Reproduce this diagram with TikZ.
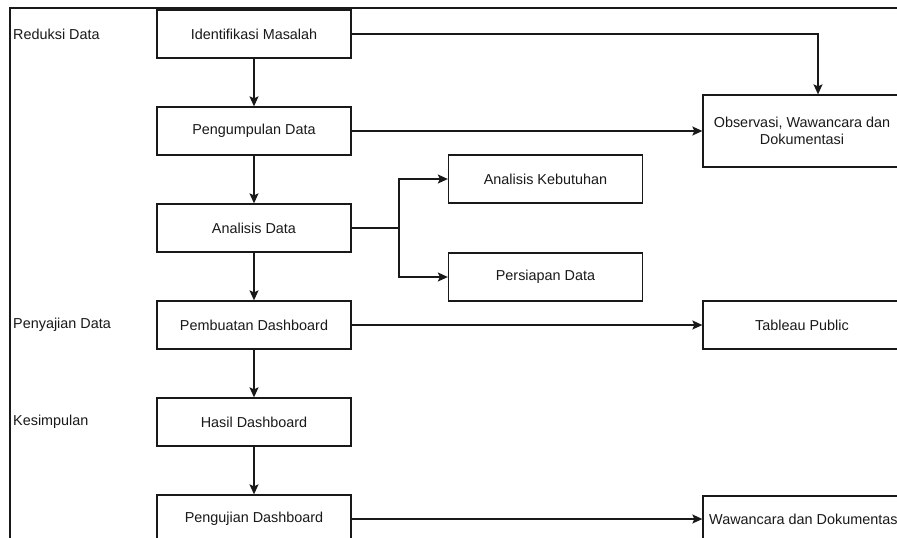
\documentclass[tikz,border=0pt]{standalone}
\usepackage{fontspec}
\setmainfont{Liberation Sans}
\usetikzlibrary{arrows.meta}
\begin{document}
\begin{tikzpicture}[x=1pt,y=-1pt,
  box/.style={draw=black!90,line width=1.3pt,minimum width=194pt,minimum height=48pt,inner sep=0pt,align=center,text=black!90,font=\fontsize{14.4}{17}\selectfont},
  wbox/.style={box,minimum width=198pt},
  lab/.style={anchor=west,inner sep=0pt,text=black!90,font=\fontsize{14.4}{17}\selectfont},
  conn/.style={draw=black!90,line width=1.3pt},
  arr/.style={conn,-{Stealth[length=10pt,width=9pt,inset=2pt]}}]
\useasboundingbox (0,0) rectangle (897,538);
\clip (0,0) rectangle (897,538);
\fill[white] (0,0) rectangle (897,538);
% frame
\coordinate (fa) at (10,538);
\coordinate (fb) at (10,8);
\coordinate (fc) at (897,8);
\draw[conn,line width=1.6pt] (fa) -- (fb) -- (fc);
% left labels
\node[lab] (l1) at (13,34) {Reduksi Data};
\node[lab] (l2) at (13,325) {Penyajian Data};
\node[lab] (l3) at (13,422) {Kesimpulan};
% main column
\node[box] (im) at (254,34) {Identifikasi Masalah};
\node[box] (pd) at (254,131) {Pengumpulan Data};
\node[box] (ad) at (254,228) {Analisis Data};
\node[box] (pb) at (254,325) {Pembuatan Dashboard};
\node[box] (hd) at (254,422) {Hasil Dashboard};
\node[box] (pj) at (254,519) {Pengujian Dashboard};
% middle
\node[box] (ak) at (545.5,179) {Analisis Kebutuhan};
\node[box] (ps) at (545.5,277) {Persiapan Data};
% right
\node[wbox,minimum height=72pt] (ob) at (802,131) {Observasi, Wawancara dan\\Dokumentasi};
\node[wbox] (tp) at (802,325) {Tableau Public};
\node[wbox] (wd) at (802,520) {};
\node[lab] (wdt) at (709,519) {Wawancara dan Dokumentasi};
% connectors
\draw[arr] (im) -- (pd);
\draw[arr] (pd) -- (ad);
\draw[arr] (ad) -- (pb);
\draw[arr] (pb) -- (hd);
\draw[arr] (hd) -- (pj);
\coordinate (c1) at (818,34);
\draw[arr] (im.east) -- (c1) -- (c1 |- ob.north);
\draw[arr] (pd.east) -- (ob.west |- pd.east);
\coordinate (br) at (399,228);
\draw[conn] (ad.east) -- (br);
\draw[arr] (br) |- (ak.west);
\draw[arr] (br) |- (ps.west);
\draw[arr] (pb.east) -- (tp.west |- pb.east);
\draw[arr] (pj.east) -- (wd.west |- pj.east);
\end{tikzpicture}
\end{document}
